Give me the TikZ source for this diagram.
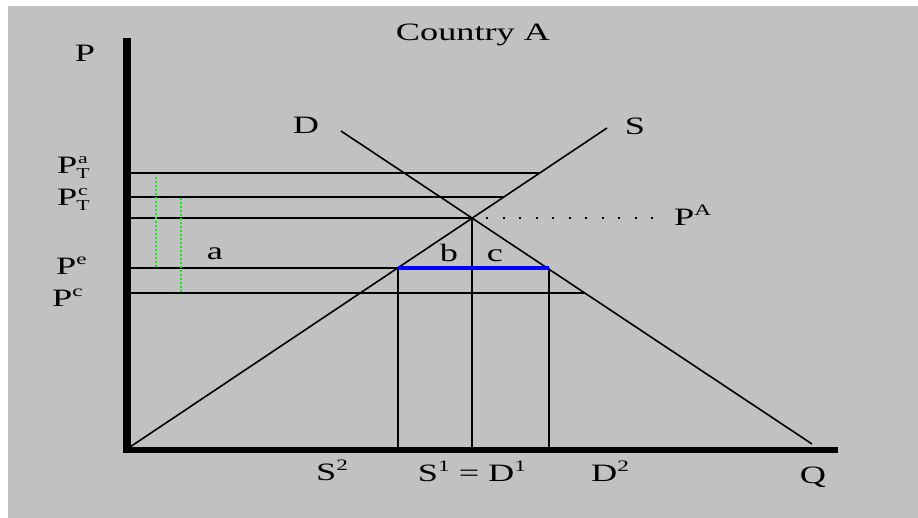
\documentclass[tikz,border=0pt]{standalone}
\usepackage{fontspec}
\setmainfont{Liberation Serif}[FakeStretch=1.45]
\definecolor{panel}{RGB}{193,193,193}
\definecolor{tradeblue}{RGB}{0,0,255}
\definecolor{tariffgreen}{RGB}{20,235,20}
\newcommand{\supsc}[1]{\raisebox{0.40em}{\fontsize{16}{16}\selectfont #1}}
\newcommand{\stk}[2]{{\fontsize{15}{15}\selectfont\makebox[0.75em][c]{\raisebox{-5pt}{#2}}\llap{\makebox[0.75em][c]{\raisebox{10pt}{#1}}}}}

\begin{document}
\begin{tikzpicture}[x=1pt, y=-1pt, font=\fontsize{25}{28}\selectfont,
  curve/.style={line width=1.6pt},
  lbl/.style={inner sep=0pt, anchor=base},
  lblw/.style={inner sep=0pt, anchor=base west}]

\useasboundingbox (0,0) rectangle (918,518);
\fill[panel] (8,6) rectangle (918,518);

% ===== Axes =====
\coordinate (Ytop) at (127,38);
\coordinate (Ybot) at (127,453);
\coordinate (Xleft) at (123,450);
\coordinate (Xend) at (838,450);
\draw[line width=8.5pt] (Ytop) -- (Ybot);
\draw[line width=6.5pt] (Xleft) -- (Xend);

% ===== Supply and demand =====
\coordinate (S0) at (130,447);
\coordinate (S1) at (607,128);
\coordinate (D0) at (341,131);
\coordinate (D1) at (812,444);
\coordinate (E) at (472,218);
\draw[curve] (S0) -- (S1);
\draw[curve] (D0) -- (D1);

% ===== Price levels =====
\foreach \n/\y/\xe in {pa/173/539, pc/197/503, pA/218/472, pe/268/398, pk/293/585} {
  \coordinate (\n L) at (131,\y);
  \coordinate (\n R) at (\xe,\y);
  \draw[curve] (\n L) -- (\n R);
}
\coordinate (dotA) at (486,218);
\coordinate (dotB) at (665,218);
\draw[line width=2pt, dash pattern=on 2pt off 14.5pt] (dotA) -- (dotB);

% ===== Quantities =====
\foreach \n/\x/\y in {qs/398/268, qa/472/218, qd/549/268} {
  \coordinate (\n B) at (\x,447);
  \coordinate (\n T) at (\x,\y);
  \draw[curve] (\n B) -- (\n T);
}
\draw[line width=4pt, tradeblue] (qsT) -- (qdT);

% ===== Tariff gaps =====
\coordinate (ga1) at (156,177);
\coordinate (ga2) at (156,268);
\coordinate (gc1) at (181,198);
\coordinate (gc2) at (181,293);
\draw[tariffgreen, line width=2pt, dash pattern=on 2pt off 2pt] (ga1) -- (ga2);
\draw[tariffgreen, line width=2pt, dash pattern=on 2pt off 2pt] (gc1) -- (gc2);

% ===== Labels =====
\node[lbl] (title) at (473,41) {Country A};
\node[lbl] (P) at (85,62) {P};
\node[lbl] (Q) at (813,483) {Q};
\node[lbl] (Dlab) at (306,134) {D};
\node[lbl] (Slab) at (635,135) {S};
\node[lblw] (PTa) at (57,174) {P\stk{a}{T}};
\node[lblw] (PTc) at (57,206) {P\stk{c}{T}};
\node[lblw] (Pe) at (56,275) {P\supsc{e}};
\node[lblw] (Pc) at (52,307) {P\supsc{c}};
\node[lblw] (PA) at (674,226) {P\supsc{A}};
\node[lbl] (a) at (215,260) {a};
\node[lbl] (b) at (449,262) {b};
\node[lbl] (c) at (495,262) {c};
\node[lblw] (S2) at (316,480) {S\supsc{2}};
\node[lbl] (S1D1) at (472,481) {S\supsc{1} = D\supsc{1}};
\node[lblw] (D2) at (591,481) {D\supsc{2}};

\end{tikzpicture}
\end{document}
